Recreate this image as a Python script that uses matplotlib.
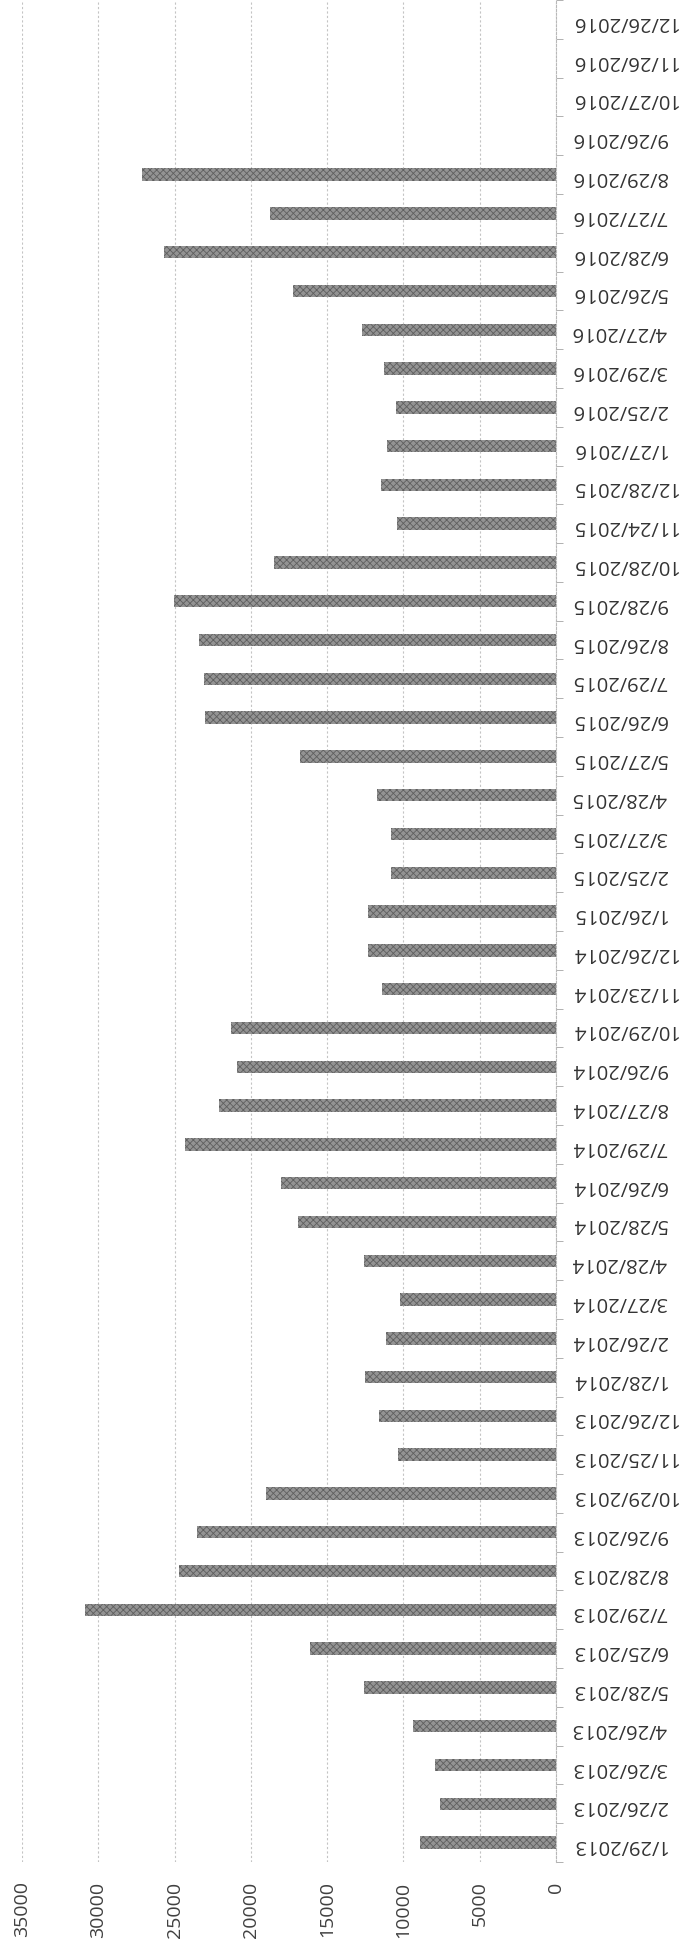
import matplotlib
matplotlib.use("Agg")
import matplotlib.pyplot as plt
import numpy as np

dates = [
    "1/29/2013", "2/26/2013", "3/26/2013", "4/26/2013", "5/28/2013", "6/25/2013",
    "7/29/2013", "8/28/2013", "9/26/2013", "10/29/2013", "11/25/2013", "12/26/2013",
    "1/28/2014", "2/26/2014", "3/27/2014", "4/28/2014", "5/28/2014", "6/26/2014",
    "7/29/2014", "8/27/2014", "9/26/2014", "10/29/2014", "11/23/2014", "12/26/2014",
    "1/26/2015", "2/25/2015", "3/27/2015", "4/28/2015", "5/27/2015", "6/26/2015",
    "7/29/2015", "8/26/2015", "9/28/2015", "10/28/2015", "11/24/2015", "12/28/2015",
    "1/27/2016", "2/25/2016", "3/29/2016", "4/27/2016", "5/26/2016", "6/28/2016",
    "7/27/2016", "8/29/2016", "9/26/2016", "10/27/2016", "11/26/2016", "12/26/2016",
]
values = [
    8900, 7600, 7900, 9400, 12600, 16100,
    30900, 24700, 23500, 19000, 10350, 11600,
    12500, 11150, 10200, 12600, 16900, 18000,
    24300, 22100, 20900, 21300, 11400, 12300,
    12300, 10800, 10800, 11750, 16800, 23000,
    23050, 23400, 25050, 18500, 10400, 11500,
    11050, 10500, 11250, 12700, 17250, 25700,
    18750, 27150, 0, 0, 0, 0,
]
value_ticks = [0, 5000, 10000, 15000, 20000, 25000, 30000, 35000]

plt.rcParams["font.family"] = ["Open Sans", "DejaVu Sans"]
plt.rcParams["hatch.linewidth"] = 0.6

W, H = 689, 1950
fig = plt.figure(figsize=(W / 100, H / 100), dpi=100)
ax = fig.add_axes([22 / W, 88 / H, (556 - 22) / W, 1862 / H])

y = np.arange(len(dates))
ax.barh(y, values, height=0.32, color="#939393", edgecolor="#5f5f5f",
        hatch="xxxxx", linewidth=0, zorder=3)

ax.set_xlim(35000, 0)
ax.set_ylim(-0.5, len(dates) - 0.5)

ax.set_xticks(value_ticks)
ax.set_xticklabels([str(v) for v in value_ticks], rotation=90,
                   fontsize=14, color="#404040")
ax.tick_params(axis="x", length=0, pad=14)

ax.yaxis.tick_right()
ax.set_yticks(y)
ax.set_yticklabels(dates, rotation=180, fontsize=14.5, color="#333333")
ax.tick_params(axis="y", which="major", length=0, pad=11)
ax.set_yticks(np.arange(-0.5, len(dates), 1.0), minor=True)
ax.tick_params(axis="y", which="minor", length=5, width=0.7,
               color="#b0b0b0", direction="out", right=True, left=False)

ax.grid(axis="x", color="#c4c4c4", linestyle=(0, (2, 2)), linewidth=0.8, zorder=0)
ax.grid(axis="y", visible=False)

for s in ["top", "left", "bottom"]:
    ax.spines[s].set_visible(False)
ax.spines["right"].set_color("#b8b8b8")
ax.spines["right"].set_linestyle((0, (2, 1.5)))
ax.spines["right"].set_linewidth(0.8)

fig.savefig("out.png", dpi=100, facecolor="white")
